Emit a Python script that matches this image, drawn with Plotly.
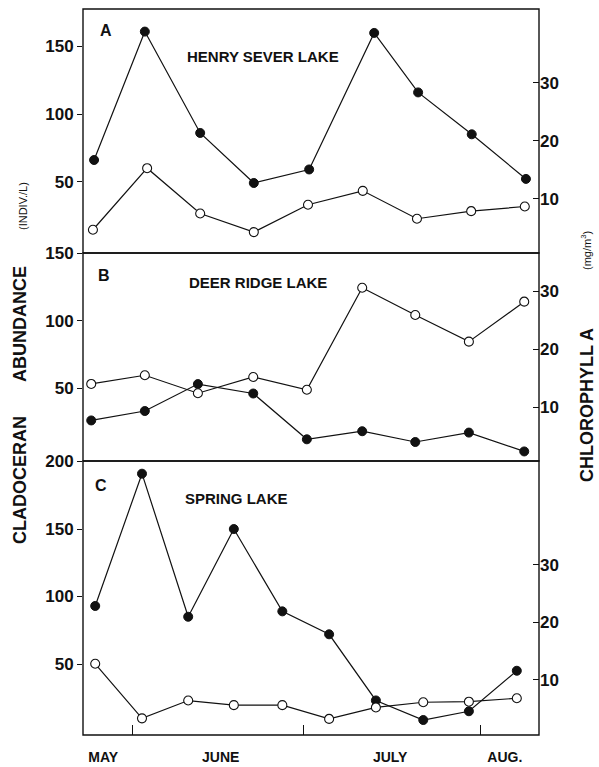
import plotly.graph_objects as go

# ---- data (x = days after 1 May) ----
HS_CLAD_DAYS = [24.3, 33.2, 42.9, 52.3, 62.0, 73.4, 81.1, 90.5, 100.0]
HS_CLAD = [66, 161, 86, 49, 59, 160, 116, 85, 52]
HS_CHL_DAYS = [24.1, 33.6, 42.9, 52.3, 61.8, 71.4, 80.9, 90.4, 99.8]
HS_CHL = [4.7, 15.3, 7.5, 4.3, 9.0, 11.4, 6.6, 7.9, 8.7]

DR_DAYS = [23.8, 33.2, 42.5, 52.2, 61.6, 71.3, 80.6, 90.0, 99.7]
DR_CLAD = [26, 33, 53, 46, 12, 18, 10, 17, 3]
DR_CHL = [14.0, 15.5, 12.4, 15.2, 13.0, 30.6, 25.9, 21.3, 28.2]

SP_DAYS = [24.5, 32.7, 40.8, 48.8, 57.3, 65.5, 73.7, 82.0, 90.0, 98.4]
SP_CLAD = [93, 191, 85, 150, 89, 72, 23, 8.5, 15, 45]
SP_CHL = [12.8, 3.3, 6.4, 5.6, 5.6, 3.2, 5.2, 6.1, 6.2, 6.8]

MONTH_BOUNDS = [31, 61, 92]
MONTH_LABEL_POS = [25.9, 46.5, 76.2, 96.3]
MONTH_LABELS = ["MAY", "JUNE", "JULY", "AUG."]

LEFT_TICKS = [[50, 100, 150], [50, 100, 150], [50, 100, 150, 200]]
RIGHT_TICKS = [10, 20, 30]
PANEL_LETTERS = ["A", "B", "C"]
LAKE_NAMES = ["HENRY SEVER LAKE", "DEER RIDGE LAKE", "SPRING LAKE"]

FONT = "Liberation Sans, Arial, sans-serif"
BLACK = "#111111"

fig = go.Figure()

def add_pair(cx, cy, ox, oy, yl, yr):
    fig.add_trace(go.Scatter(x=cx, y=cy, xaxis="x", yaxis=yl, mode="lines+markers",
                             line=dict(color=BLACK, width=1.2),
                             marker=dict(size=9, color=BLACK, line=dict(color=BLACK, width=1)),
                             showlegend=False, cliponaxis=False, hoverinfo="skip"))
    fig.add_trace(go.Scatter(x=ox, y=oy, xaxis="x", yaxis=yr, mode="lines+markers",
                             line=dict(color=BLACK, width=1.2),
                             marker=dict(size=9, color="white", line=dict(color=BLACK, width=1.1)),
                             showlegend=False, cliponaxis=False, hoverinfo="skip"))

add_pair(HS_CLAD_DAYS, HS_CLAD, HS_CHL_DAYS, HS_CHL, "y", "y2")
add_pair(DR_DAYS, DR_CLAD, DR_DAYS, DR_CHL, "y3", "y4")
add_pair(SP_DAYS, SP_CLAD, SP_DAYS, SP_CHL, "y5", "y6")

# geometry (plot area 726 px tall, y from 9 to 735)
H = 726.0
domA = [(735 - 253) / H, 1.0]
domB = [(735 - 461) / H, (735 - 253) / H]
domC = [0.0, (735 - 461) / H]

left_ranges = [[-2.8, 177.7], [-4.1, 150.3], [-2.6, 200.4]]
right_ranges = [[0.7, 42.7], [0.7, 36.6], [0.4, 48.1]]
doms = [domA, domB, domC]

tickfont = dict(family=FONT, size=17, color=BLACK, weight="bold")

layout = dict(
    template="none",
    width=599, height=767,
    margin=dict(l=83, r=60, t=9, b=32, autoexpand=False),
    paper_bgcolor="white", plot_bgcolor="white",
    showlegend=False,
    xaxis=dict(range=[22.36, 102.29], anchor="y5", tickmode="array",
               tickvals=MONTH_LABEL_POS, ticktext=MONTH_LABELS, ticks="",
               ticklabelstandoff=12, automargin=False,
               tickfont=dict(family=FONT, size=14, color=BLACK, weight="bold"),
               minor=dict(tickmode="array", tickvals=MONTH_BOUNDS, ticks="inside", ticklen=10,
                          tickwidth=1.3, tickcolor=BLACK, showgrid=False),
               showgrid=False, zeroline=False, showline=False),
)
names = [("yaxis", "yaxis2", "y"), ("yaxis3", "yaxis4", "y3"), ("yaxis5", "yaxis6", "y5")]
for i, (ln, rn, lref) in enumerate(names):
    layout[ln] = dict(domain=doms[i], range=left_ranges[i], anchor="x", automargin=False,
                      tickmode="array", tickvals=LEFT_TICKS[i], ticks="outside", ticklen=5,
                      tickwidth=1.3, tickcolor=BLACK, tickfont=tickfont,
                      showgrid=False, zeroline=False, showline=False)
    layout[rn] = dict(range=right_ranges[i], overlaying=lref, anchor="x", side="right",
                      automargin=False,
                      tickmode="array", tickvals=RIGHT_TICKS, ticks="inside", ticklen=6,
                      tickwidth=1.3, tickcolor=BLACK, tickfont=tickfont,
                      showgrid=False, zeroline=False, showline=False)
fig.update_layout(**layout)

# panel frames
for lref in ["y", "y3", "y5"]:
    fig.add_shape(type="rect", xref="x domain", yref=f"{lref} domain", x0=0, x1=1, y0=0, y1=1,
                  line=dict(color=BLACK, width=1.4), fillcolor="rgba(0,0,0,0)", layer="above")

# panel letters and lake names (paper px -> fraction)
def px(xp):
    return (xp - 83) / (539 - 83)

def py(yp):
    return (735 - yp) / H

def note(xp, yp, text, font, angle=0):
    fig.add_annotation(x=px(xp), y=py(yp), xref="paper", yref="paper", text=text,
                       xanchor="center", yanchor="middle", textangle=angle,
                       showarrow=False, font=font)

letter_pos = [(106, 30), (104, 275), (101, 486)]
name_pos = [(263, 56), (258, 282), (236, 498)]
for i in range(3):
    note(*letter_pos[i], PANEL_LETTERS[i], dict(family=FONT, size=16, color=BLACK, weight="bold"))
    note(*name_pos[i], LAKE_NAMES[i], dict(family=FONT, size=15, color=BLACK, weight="bold"))

# axis titles
title_font = dict(family=FONT, size=18, color=BLACK, weight="bold")
unit_font = dict(family=FONT, size=11, color=BLACK)
note(20, 480, "CLADOCERAN", title_font, -90)
note(20, 324, "ABUNDANCE", title_font, -90)
note(23, 206, "(INDIV./L)", unit_font, -90)
note(587, 405, "CHLOROPHYLL A", title_font, -90)
note(586, 251, "(mg/m<sup>3</sup>)", unit_font, -90)

fig.write_html("out.html", config={"displayModeBar": False},
               post_script="document.body.style.margin='0';")
